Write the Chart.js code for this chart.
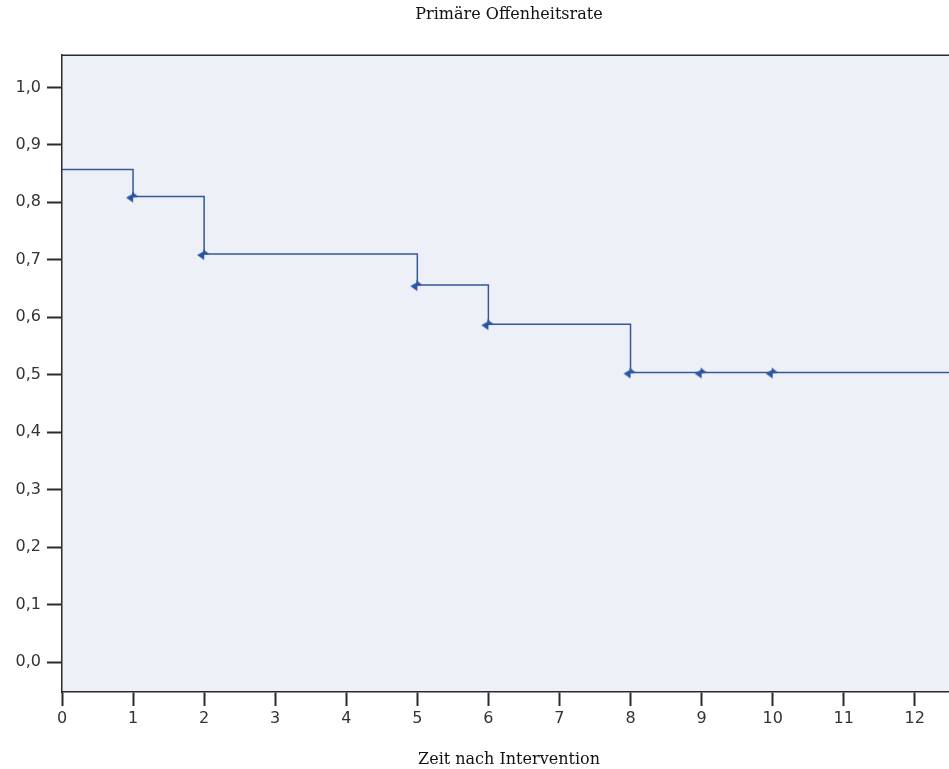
<!DOCTYPE html>
<html>
<head>
<meta charset="utf-8">
<script src="https://cdn.jsdelivr.net/npm/chart.js@4.4.0/dist/chart.umd.min.js"></script>
<style>
  html, body { margin: 0; padding: 0; background: #fff; overflow: hidden; }
  #wrap { width: 1018px; height: 769px; }
</style>
</head>
<body>
<div id="wrap"><canvas id="km" width="1018" height="769"></canvas></div>
<script>
// Kaplan-Meier step values
const eventTimes = [0, 1, 2, 5, 6, 8];
const survival = [0.857, 0.810, 0.710, 0.656, 0.588, 0.504];
const lastTime = 13;

// censored observations
const censorTimes = [1, 2, 5, 6, 8, 9, 10];
const censorValues = [0.810, 0.710, 0.656, 0.588, 0.504, 0.504, 0.504];

const xTicks = [0, 1, 2, 3, 4, 5, 6, 7, 8, 9, 10, 11, 12];
const yTicks = [0.0, 0.1, 0.2, 0.3, 0.4, 0.5, 0.6, 0.7, 0.8, 0.9, 1.0];

const titleText = 'Primäre Offenheitsrate';
const xTitle = 'Zeit nach Intervention';

const lineColor = '#365896';
const markColor = '#2656a6';
const axisColor = '#2b2b2b';

// step line points
const stepData = eventTimes.map((t, i) => ({ x: t, y: survival[i] }));
stepData.push({ x: lastTime, y: survival[survival.length - 1] });

const censorData = censorTimes.map((t, i) => ({ x: t, y: censorValues[i] }));

// small censor marker (arrow-ish tick like SPSS)
function makeMarker() {
    const c = document.createElement('canvas');
    c.width = 16; c.height = 14;
    const g = c.getContext('2d');
    g.fillStyle = markColor;
    g.beginPath();
    g.moveTo(1, 8);
    g.lineTo(8, 4);
    g.lineTo(8, 13);
    g.closePath();
    g.fill();
    g.beginPath();
    g.moveTo(7, 2);
    g.lineTo(13, 7);
    g.lineTo(7, 8);
    g.closePath();
    g.fill();
    return c;
}

const plotBg = {
    id: 'plotBg',
    beforeDraw(chart) {
        const a = chart.chartArea, ctx = chart.ctx;
        ctx.save();
        ctx.fillStyle = '#edf0f7';
        ctx.fillRect(a.left, a.top, a.right - a.left, a.bottom - a.top);
        ctx.restore();
    },
    afterDraw(chart) {
        const a = chart.chartArea, ctx = chart.ctx;
        ctx.save();
        ctx.strokeStyle = axisColor;
        ctx.lineWidth = 1.5;
        ctx.beginPath();
        ctx.moveTo(a.left, a.top);
        ctx.lineTo(a.right, a.top);
        ctx.lineTo(a.right, a.bottom);
        ctx.stroke();
        ctx.restore();
    }
};

new Chart(document.getElementById('km'), {
    type: 'line',
    data: {
        datasets: [
            {
                label: 'Überleben',
                data: stepData,
                stepped: 'before',
                borderColor: lineColor,
                borderWidth: 1.5,
                pointRadius: 0,
                fill: false
            },
            {
                label: 'Zensiert',
                type: 'scatter',
                data: censorData,
                pointStyle: makeMarker(),
                showLine: false
            }
        ]
    },
    plugins: [plotBg],
    options: {
        responsive: false,
        animation: false,
        layout: { padding: { left: 0, right: 62, top: 0, bottom: 0 } },
        plugins: {
            legend: { display: false },
            tooltip: { enabled: false },
            title: {
                display: true,
                fullSize: false,
                text: titleText,
                color: '#111',
                font: { family: 'DejaVu Serif', size: 16, weight: 'normal', lineHeight: 1.2 },
                padding: { top: 5, bottom: 31 }
            }
        },
        scales: {
            x: {
                type: 'linear',
                min: 0,
                max: 12.58,
                afterBuildTicks: s => { s.ticks = xTicks.map(v => ({ value: v })); },
                afterFit: s => { s.height = 77; },
                grid: { drawOnChartArea: false, drawTicks: true, tickLength: 14, tickWidth: 2, tickColor: axisColor },
                border: { display: true, color: axisColor, width: 1.5 },
                ticks: {
                    color: '#333',
                    padding: 3,
                    autoSkip: false,
                    maxRotation: 0,
                    font: { family: 'DejaVu Sans', size: 16 },
                    callback: v => String(v)
                },
                title: {
                    display: true,
                    text: xTitle,
                    color: '#111',
                    font: { family: 'DejaVu Serif', size: 16, lineHeight: 1 },
                    padding: { top: 0, bottom: 1 }
                }
            },
            y: {
                type: 'linear',
                min: -0.052,
                max: 1.056,
                afterBuildTicks: s => { s.ticks = yTicks.map(v => ({ value: v })); },
                afterFit: s => { s.width = 62; },
                grid: { drawOnChartArea: false, drawTicks: true, tickLength: 15, tickWidth: 2, tickColor: axisColor },
                border: { display: true, color: axisColor, width: 1.5 },
                ticks: {
                    color: '#333',
                    padding: 6,
                    font: { family: 'DejaVu Sans', size: 16 },
                    callback: v => v.toFixed(1).replace('.', ',')
                }
            }
        }
    }
});
</script>
</body>
</html>
